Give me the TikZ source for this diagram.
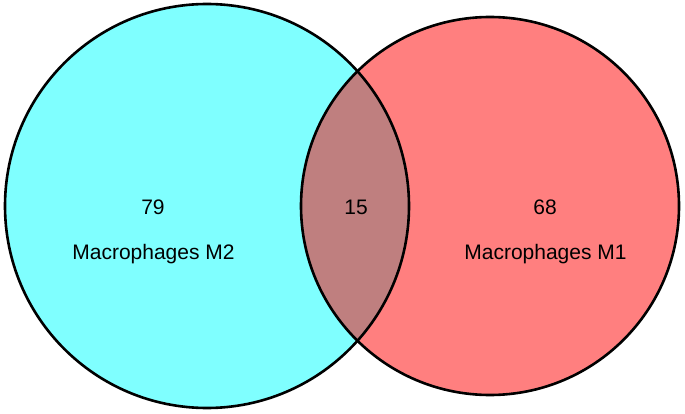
\documentclass[tikz,border=0pt]{standalone}
\usepackage{fontspec}
\setmainfont{Liberation Sans}
\definecolor{vcyan}{RGB}{0,255,255}
\definecolor{vred}{RGB}{255,0,0}
\begin{document}
\begin{tikzpicture}[x=1pt,y=-1pt,
  setfill/.style={fill opacity=0.5},
  setline/.style={draw=black,line width=2.6pt},
  lbl/.style={inner sep=0pt,font=\fontsize{21}{25}\selectfont,text=black}]
\useasboundingbox (0,0) rectangle (685,414);
\fill[vcyan,setfill] (207,206) circle[radius=202];
\fill[vred,setfill] (490,206) circle[radius=189];
\draw[setline] (207,206) circle[radius=202];
\draw[setline] (490,206) circle[radius=189];
\node[lbl] (n79) at (153,207) {79};
\node[lbl,anchor=base] (m2) at (153.5,259) {Macrophages M2};
\node[lbl] (n15) at (356,207) {15};
\node[lbl] (n68) at (545,207) {68};
\node[lbl,anchor=base] (m1) at (545.5,259) {Macrophages M1};
\end{tikzpicture}
\end{document}
